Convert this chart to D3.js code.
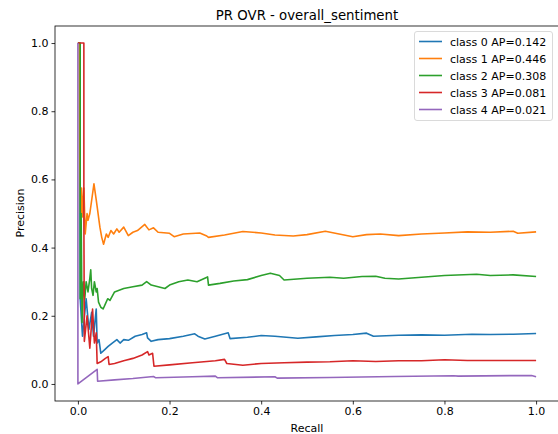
<!DOCTYPE html>
<meta charset="utf-8">
<body style="margin:0">
<svg width="558" height="434"></svg>
<script src="https://d3js.org/d3.v7.min.js"></script>
<script>

// values: [recall, precision]
var class0 = [[0,1],[0.004,1],[0.005,0.25],[0.01,0.14],[0.018,0.25],[0.024,0.16],[0.03,0.21],[0.034,0.14],[0.04,0.22],[0.042,0.12],[0.046,0.13],[0.05,0.09],[0.058,0.1],[0.066,0.11],[0.075,0.12],[0.085,0.13],[0.092,0.12],[0.1,0.13],[0.11,0.128],[0.125,0.14],[0.14,0.145],[0.15,0.15],[0.152,0.135],[0.16,0.125],[0.175,0.13],[0.2,0.133],[0.23,0.14],[0.255,0.147],[0.262,0.14],[0.277,0.132],[0.3,0.14],[0.328,0.15],[0.332,0.133],[0.37,0.137],[0.4,0.142],[0.43,0.14],[0.48,0.134],[0.52,0.138],[0.56,0.142],[0.6,0.145],[0.63,0.149],[0.645,0.14],[0.7,0.143],[0.75,0.144],[0.8,0.143],[0.86,0.146],[0.9,0.145],[0.95,0.146],[1.0,0.148]];
var class1 = [[0,1],[0.003,1],[0.004,0.666],[0.006,0.5],[0.008,0.575],[0.01,0.49],[0.013,0.575],[0.016,0.44],[0.02,0.5],[0.022,0.48],[0.026,0.5],[0.035,0.587],[0.04,0.54],[0.042,0.52],[0.046,0.48],[0.048,0.46],[0.052,0.43],[0.056,0.41],[0.062,0.44],[0.066,0.43],[0.072,0.45],[0.078,0.44],[0.085,0.455],[0.09,0.445],[0.1,0.46],[0.11,0.435],[0.12,0.445],[0.13,0.45],[0.146,0.468],[0.155,0.452],[0.165,0.458],[0.175,0.445],[0.2,0.442],[0.21,0.432],[0.23,0.44],[0.266,0.443],[0.28,0.435],[0.285,0.43],[0.32,0.437],[0.36,0.447],[0.4,0.443],[0.43,0.437],[0.47,0.434],[0.5,0.438],[0.54,0.448],[0.57,0.44],[0.6,0.432],[0.63,0.438],[0.66,0.44],[0.7,0.435],[0.75,0.44],[0.8,0.443],[0.85,0.446],[0.9,0.445],[0.95,0.448],[0.96,0.442],[1.0,0.446]];
var class2 = [[0,1],[0.005,1],[0.005,0.25],[0.007,0.5],[0.009,0.18],[0.012,0.3],[0.015,0.25],[0.018,0.3],[0.022,0.27],[0.026,0.31],[0.028,0.335],[0.03,0.28],[0.033,0.26],[0.036,0.3],[0.04,0.27],[0.042,0.28],[0.045,0.24],[0.05,0.225],[0.055,0.22],[0.06,0.235],[0.065,0.25],[0.07,0.245],[0.08,0.27],[0.09,0.275],[0.1,0.28],[0.12,0.285],[0.14,0.29],[0.15,0.3],[0.16,0.29],[0.175,0.285],[0.19,0.28],[0.2,0.29],[0.22,0.3],[0.24,0.305],[0.26,0.3],[0.283,0.314],[0.285,0.29],[0.31,0.295],[0.34,0.302],[0.37,0.306],[0.4,0.318],[0.42,0.325],[0.44,0.318],[0.45,0.305],[0.5,0.31],[0.55,0.313],[0.58,0.31],[0.62,0.315],[0.65,0.316],[0.67,0.31],[0.7,0.308],[0.75,0.313],[0.8,0.318],[0.87,0.322],[0.9,0.318],[0.95,0.32],[1.0,0.315]];
var class3 = [[0,1],[0.013,1],[0.013,0.5],[0.014,0.125],[0.02,0.2],[0.026,0.105],[0.03,0.18],[0.032,0.22],[0.036,0.12],[0.04,0.15],[0.042,0.06],[0.05,0.065],[0.06,0.075],[0.066,0.08],[0.068,0.057],[0.08,0.06],[0.1,0.068],[0.12,0.075],[0.14,0.085],[0.152,0.095],[0.155,0.085],[0.163,0.09],[0.166,0.052],[0.2,0.056],[0.25,0.062],[0.3,0.068],[0.32,0.072],[0.325,0.06],[0.36,0.055],[0.4,0.06],[0.45,0.062],[0.5,0.064],[0.55,0.065],[0.6,0.068],[0.65,0.066],[0.7,0.068],[0.75,0.068],[0.8,0.071],[0.85,0.069],[0.9,0.069],[1.0,0.069]];
var class4 = [[0,1],[0,0],[0.042,0.043],[0.043,0.008],[0.08,0.012],[0.12,0.016],[0.165,0.022],[0.17,0.018],[0.25,0.021],[0.3,0.023],[0.305,0.018],[0.43,0.021],[0.435,0.017],[0.55,0.019],[0.69,0.022],[0.82,0.024],[0.83,0.023],[0.99,0.025],[1.0,0.021]];

var labels = ["class 0 AP=0.142", "class 1 AP=0.446", "class 2 AP=0.308", "class 3 AP=0.081", "class 4 AP=0.021"];
var colors = ["#1f77b4", "#ff7f0e", "#2ca02c", "#d62728", "#9467bd"];
var ticks = [0, 0.2, 0.4, 0.6, 0.8, 1.0];
var series = [class0, class1, class2, class3, class4];

var svg = d3.select("svg").style("font-family", "DejaVu Sans, sans-serif");
svg.append("rect").attr("width", 558).attr("height", 434).attr("fill", "#fff");

var x = d3.scaleLinear().domain([-0.05, 1.05]).range([55, 559]);
var y = d3.scaleLinear().domain([-0.05, 1.05]).range([401, 26]);

var line = d3.line().x(function(d) { return x(d[0]); }).y(function(d) { return y(d[1]); });

var plot = svg.append("g");
series.forEach(function(s, i) {
  plot.append("path").attr("d", line(s))
      .attr("fill", "none")
      .attr("stroke", colors[i])
      .attr("stroke-width", 1.6)
      .attr("stroke-linejoin", "round");
});

// axes
var xAxis = svg.append("g").attr("transform", "translate(0,401)")
  .call(d3.axisBottom(x).tickValues(ticks).tickFormat(d3.format(".1f")).tickSize(3.5).tickPadding(3));
var yAxis = svg.append("g").attr("transform", "translate(55,0)")
  .call(d3.axisLeft(y).tickValues(ticks).tickFormat(d3.format(".1f")).tickSize(3.5).tickPadding(3));
[xAxis, yAxis].forEach(function(a) {
  a.select(".domain").remove();
  a.selectAll("text").style("font-size", "11px").attr("fill", "#000").style("font-family", "DejaVu Sans, sans-serif");
  a.selectAll("line").attr("stroke", "#000").attr("stroke-width", 0.8);
});

// frame
svg.append("rect").attr("x", 55).attr("y", 26).attr("width", 504).attr("height", 375)
   .attr("fill", "none").attr("stroke", "#000").attr("stroke-width", 0.8);

svg.append("text").attr("x", 307).attr("y", 20).attr("text-anchor", "middle")
   .style("font-size", "13.3px").text("PR OVR - overall_sentiment");
svg.append("text").attr("x", 307).attr("y", 432).attr("text-anchor", "middle")
   .style("font-size", "11px").text("Recall");
svg.append("text").attr("transform", "translate(24,213) rotate(-90)").attr("text-anchor", "middle")
   .style("font-size", "11px").text("Precision");

// legend
var legend = svg.append("g");
legend.append("rect").attr("x", 414.5).attr("y", 31.5).attr("width", 138).attr("height", 89).attr("rx", 2.5)
      .attr("fill", "#fff").attr("fill-opacity", 0.8).attr("stroke", "#d0d0d0").attr("stroke-width", 0.8);
labels.forEach(function(t, i) {
  var ly = 41.5 + i * 17;
  legend.append("line").attr("x1", 419).attr("x2", 442).attr("y1", ly).attr("y2", ly)
        .attr("stroke", colors[i]).attr("stroke-width", 1.6);
  legend.append("text").attr("x", 450).attr("y", ly + 4).style("font-size", "11px").text(t);
});

</script>
</body>
